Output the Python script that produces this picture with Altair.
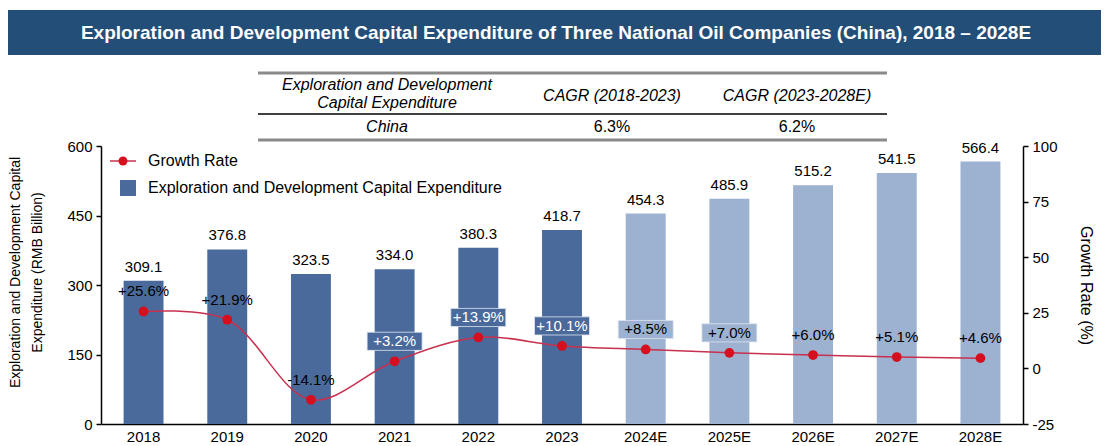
import altair as alt
import pandas as pd

years = ["2018", "2019", "2020", "2021", "2022", "2023", "2024E", "2025E", "2026E", "2027E", "2028E"]
capex = [309.1, 376.8, 323.5, 334.0, 380.3, 418.7, 454.3, 485.9, 515.2, 541.5, 566.4]
growth = [25.6, 21.9, -14.1, 3.2, 13.9, 10.1, 8.5, 7.0, 6.0, 5.1, 4.6]
growth_text = ["+25.6%", "+21.9%", "-14.1%", "+3.2%", "+13.9%", "+10.1%", "+8.5%", "+7.0%", "+6.0%", "+5.1%", "+4.6%"]
actual_years = ["2018", "2019", "2020", "2021", "2022", "2023"]
boxed_dark = ["2021", "2022", "2023"]
boxed_light = ["2024E", "2025E"]

title_text = "Exploration and Development Capital Expenditure of Three National Oil Companies (China), 2018 \u2013 2028E"
table_header = ["CAGR (2018-2023)", "CAGR (2023-2028E)"]
table_row = ["China", "6.3%", "6.2%"]

FONT = "Liberation Sans"
DARK = "#4A6A9B"
LIGHT = "#9DB1D0"

df = pd.DataFrame({
    "year": years,
    "capex": capex,
    "growth": growth,
    "glabel": growth_text,
    "capex_label": [f"{v:.1f}" for v in capex],
    "phase": ["Actual" if y in actual_years else "Forecast" for y in years],
    "box": ["dark" if y in boxed_dark else ("light" if y in boxed_light else "none") for y in years],
})

W, H = 922, 278

xenc = alt.X("year:N", sort=years,
             scale=alt.Scale(paddingInner=0.523, paddingOuter=0.27),
             axis=alt.Axis(title=None, labelAngle=0, ticks=False, labelFontSize=15,
                           labelPadding=5, domainColor="black", domainWidth=1.5))

base = alt.Chart(df)

bars = base.mark_bar().encode(
    x=xenc,
    y=alt.Y("capex:Q", scale=alt.Scale(domain=[0, 600], nice=False),
            axis=alt.Axis(values=[0, 150, 300, 450, 600], tickSize=5, labelFontSize=15,
                          labelPadding=4, domainWidth=1.5,
                          title=["Exploration and Development Capital", "Expenditure (RMB Billion)"],
                          titleFontSize=14, titleFontWeight="normal", titlePadding=22,
                          titleLineHeight=22, titleY=126)),
    color=alt.Color("phase:N", scale=alt.Scale(domain=["Actual", "Forecast"], range=[DARK, LIGHT]), legend=None),
)
bar_labels = base.mark_text(baseline="bottom", dy=-6, fontSize=15, font=FONT, color="black").encode(
    x=alt.X("year:N", sort=years), y=alt.Y("capex:Q"), text="capex_label:N")

left_layer = alt.layer(bars, bar_labels)

gy = alt.Y("growth:Q", scale=alt.Scale(domain=[-25, 100], nice=False),
           axis=alt.Axis(orient="right", values=[-25, 0, 25, 50, 75, 100], tickSize=5, labelFontSize=15,
                         labelPadding=4, domainWidth=1.5, title="Growth Rate (%)", labelExpr="datum.value",
                         titleFontSize=16, titleFontWeight="normal", titlePadding=20))

line = base.mark_line(color="#C8304F", strokeWidth=1.5, interpolate="catmull-rom").encode(
    x=alt.X("year:N", sort=years), y=gy)
pts = base.mark_point(filled=True, opacity=1, size=95, color="#D50F1E").encode(
    x=alt.X("year:N", sort=years), y=alt.Y("growth:Q"))
boxes = base.transform_filter(alt.datum.box != "none").mark_point(
    shape="M-1,-0.33H1V0.33H-1Z", size=55 * 55, filled=True, opacity=1, yOffset=-20,
    stroke="#dfe6f0", strokeWidth=0.8).encode(
    x=alt.X("year:N", sort=years), y=alt.Y("growth:Q"),
    color=alt.Color("box:N", scale=alt.Scale(domain=["dark", "light"], range=["#5473A2", "#B5C4DA"]), legend=None))
glabels = base.mark_text(dy=-20, fontSize=15, font=FONT).encode(
    x=alt.X("year:N", sort=years), y=alt.Y("growth:Q"), text="glabel:N",
    color=alt.condition(alt.datum.box == "dark", alt.value("white"), alt.value("black")))

right_layer = alt.layer(line, pts, boxes, glabels)

one = pd.DataFrame({"k": [0]})
deco = alt.Chart(one)


def txt(s, x, y, size=16, align="center", weight="normal", style="normal", color="black", font=FONT):
    return deco.mark_text(text=s, align=align, baseline="middle", fontSize=size, fontWeight=weight,
                          fontStyle=style, color=color, font=font).encode(x=alt.value(x), y=alt.value(y))


def hrule(x1, x2, y, width, color):
    return deco.mark_rule(color=color, strokeWidth=width).encode(
        x=alt.value(x1), x2=alt.value(x2), y=alt.value(y))


ox, oy = 101, 146  # page position of plot origin

banner = deco.mark_rect(color="#234E78").encode(
    x=alt.value(-95), x2=alt.value(1010), y=alt.value(10 - oy), y2=alt.value(55 - oy))
title = txt(title_text, 556 - ox, 33 - oy, size=19, weight="bold", color="white")

tbl = [
    hrule(258 - ox, 887 - ox, 73 - oy, 3, "#8a8a8a"),
    hrule(258 - ox, 887 - ox, 114 - oy, 1.5, "black"),
    hrule(258 - ox, 887 - ox, 140 - oy, 3, "#8a8a8a"),
    txt("Exploration and Development", 387 - ox, 85 - oy, style="italic"),
    txt("Capital Expenditure", 387 - ox, 103 - oy, style="italic"),
    txt(table_header[0], 612 - ox, 96 - oy, style="italic"),
    txt(table_header[1], 797 - ox, 96 - oy, style="italic"),
    txt(table_row[0], 387 - ox, 127 - oy, style="italic"),
    txt(table_row[1], 612 - ox, 127 - oy),
    txt(table_row[2], 797 - ox, 127 - oy),
]

legend = [
    deco.mark_rule(color="#C8304F", strokeWidth=1.5).encode(
        x=alt.value(110 - ox), x2=alt.value(136 - ox), y=alt.value(161 - oy)),
    deco.mark_point(filled=True, opacity=1, size=80, color="#D50F1E").encode(
        x=alt.value(123 - ox), y=alt.value(161 - oy)),
    txt("Growth Rate", 148 - ox, 161 - oy, align="left"),
    deco.mark_rect(color=DARK).encode(
        x=alt.value(120 - ox), x2=alt.value(136 - ox), y=alt.value(180 - oy), y2=alt.value(196 - oy)),
    txt("Exploration and Development Capital Expenditure", 148 - ox, 188 - oy, align="left"),
]

chart = alt.layer(
    left_layer, right_layer, banner, title, *tbl, *legend
).resolve_scale(y="independent").properties(
    width=W, height=H,
    autosize=alt.AutoSizeParams(type="none"),
    padding={"left": ox - 8, "top": oy - 8, "right": 1093 - (ox - 8) - W, "bottom": 22},
).configure_view(stroke=None).configure_axis(
    grid=False, domainColor="black", tickColor="black", labelColor="black", titleColor="black",
    labelFont=FONT, titleFont=FONT, tickWidth=1.5,
).configure_text(font=FONT)

chart.save("out.html", embed_options={"renderer": "svg", "actions": False})
